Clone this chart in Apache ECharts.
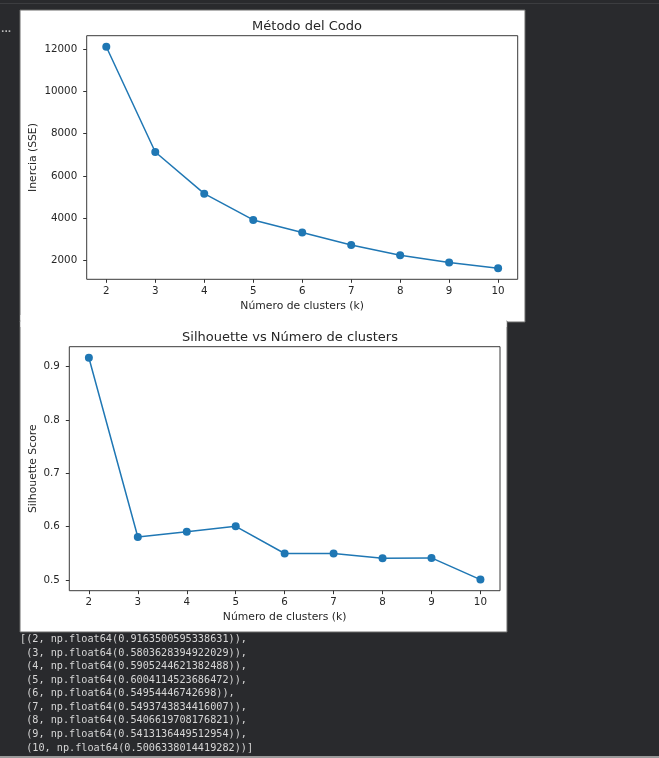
<!DOCTYPE html>
<html>
<head>
<meta charset="utf-8">
<script src="https://cdn.jsdelivr.net/npm/echarts@6/dist/echarts.min.js"></script>
<style>
html,body{margin:0;padding:0;background:#292a2d;}
#c{width:659px;height:758px;}
</style>
</head>
<body>
<div id="c"></div>
<script>
// ---- data ----
const clusters = [2, 3, 4, 5, 6, 7, 8, 9, 10];
const inertia = [12120, 7130, 5155, 3910, 3310, 2725, 2235, 1890, 1620];
const silhouette = [0.9163500595338631, 0.5803628394922029, 0.5905244621382488, 0.6004114523686472,
  0.54954446742698, 0.5493743834416007, 0.5406619708176821, 0.5413136449512954, 0.5006338014419282];
const inertiaTicks = [2000, 4000, 6000, 8000, 10000, 12000];
const silTicks = [0.5, 0.6, 0.7, 0.8, 0.9];
const titles = ['Método del Codo', 'Silhouette vs Número de clusters'];
const xName = 'Número de clusters (k)';
const yNames = ['Inercia (SSE)', 'Silhouette Score'];

// ---- helpers ----
function pad(arr, f) {
  const mn = Math.min(...arr), mx = Math.max(...arr), r = mx - mn;
  return [mn - f * r, mx + f * r];
}
const xr = pad(clusters, 0.05);
const y1 = pad(inertia, 0.05);
const y2 = pad(silhouette, 0.05);
const ink = '#262626';
const FONT = 'DejaVu Sans';

function xAxis(gi) {
  return {
    type: 'value', gridIndex: gi, min: xr[0], max: xr[1],
    name: xName, nameLocation: 'middle', nameGap: 21, nameMoveOverlap: false,
    nameTextStyle: { color: ink, fontSize: 10.8, fontFamily: FONT },
    axisLine: { show: false },
    splitLine: { show: false },
    axisTick: { show: true, length: 3.5, inside: false, customValues: clusters, lineStyle: { color: '#333', width: 1 } },
    axisLabel: { customValues: clusters, color: ink, fontSize: 10.3, fontFamily: FONT, margin: 7 }
  };
}
function yAxis(gi, r, ticks, name, gap, fmt) {
  return {
    type: 'value', gridIndex: gi, min: r[0], max: r[1],
    name: name, nameLocation: 'middle', nameGap: gap, nameMoveOverlap: false,
    nameTextStyle: { color: ink, fontSize: 10.8, fontFamily: FONT },
    axisLine: { show: false },
    splitLine: { show: false },
    axisTick: { show: true, length: 3.5, customValues: ticks, lineStyle: { color: '#333', width: 1 } },
    axisLabel: { customValues: ticks, color: ink, fontSize: 10.3, fontFamily: FONT, margin: 9.5, formatter: fmt }
  };
}

const lines = clusters.map((k, i) => {
  const pre = i === 0 ? '[' : ' ';
  const post = i === clusters.length - 1 ? ')]' : '),';
  return pre + '(' + k + ', np.float64(' + String(silhouette[i]) + ')' + post;
});

const graphic = [
  { type: 'rect', z: -10, shape: { x: 0, y: 3, width: 659, height: 1 }, style: { fill: '#3c3d40' } },
  { type: 'rect', z: -10, shape: { x: 0, y: 756, width: 659, height: 2 }, style: { fill: '#9a9a9a' } },
  { type: 'rect', z: -5, shape: { x: 20, y: 10, width: 505, height: 312 }, style: { fill: '#ffffff', stroke: '#6a6a6a', lineWidth: 1 } },
  { type: 'rect', z: -5, shape: { x: 20, y: 321, width: 487, height: 311 }, style: { fill: '#ffffff', stroke: '#6a6a6a', lineWidth: 1 } },
  { type: 'rect', z: -4, shape: { x: 20.5, y: 315, width: 486, height: 12 }, style: { fill: '#ffffff' } },
  { type: 'text', left: 1, top: 25, style: { text: '...', fill: '#bbbbbb', fontSize: 9, fontWeight: 'bold', fontFamily: FONT } }
];
lines.forEach((t, i) => {
  graphic.push({
    type: 'text', left: 20, top: 634.5 + i * 13.55,
    style: { text: t, fill: '#d6d6d6', fontSize: 10.2, fontFamily: 'DejaVu Sans Mono' }
  });
});

const chart = echarts.init(document.getElementById('c'), null, { renderer: 'canvas' });
chart.setOption({
  backgroundColor: '#292a2d',
  animation: false,
  title: [
    { text: titles[0], left: 302, top: 15.5, textAlign: 'center', textStyle: { color: ink, fontSize: 13, fontWeight: 'normal', fontFamily: FONT } },
    { text: titles[1], left: 285, top: 326.5, textAlign: 'center', textStyle: { color: ink, fontSize: 13, fontWeight: 'normal', fontFamily: FONT } }
  ],
  grid: [
    { left: 86.7, top: 35.7, width: 431, height: 243.6, show: true, borderColor: '#3a3a3a', borderWidth: 1, backgroundColor: '#fff' },
    { left: 69.3, top: 346.7, width: 430.7, height: 244, show: true, borderColor: '#3a3a3a', borderWidth: 1, backgroundColor: '#fff' }
  ],
  xAxis: [xAxis(0), xAxis(1)],
  yAxis: [
    yAxis(0, y1, inertiaTicks, yNames[0], 48, v => String(v)),
    yAxis(1, y2, silTicks, yNames[1], 30.3, v => v.toFixed(1))
  ],
  graphic: graphic,
  series: [
    { type: 'line', xAxisIndex: 0, yAxisIndex: 0, data: clusters.map((k, i) => [k, inertia[i]]),
      symbol: 'circle', symbolSize: 8, lineStyle: { color: '#1f77b4', width: 1.5 }, itemStyle: { color: '#1f77b4' } },
    { type: 'line', xAxisIndex: 1, yAxisIndex: 1, data: clusters.map((k, i) => [k, silhouette[i]]),
      symbol: 'circle', symbolSize: 8, lineStyle: { color: '#1f77b4', width: 1.5 }, itemStyle: { color: '#1f77b4' } }
  ]
});
</script>
</body>
</html>
